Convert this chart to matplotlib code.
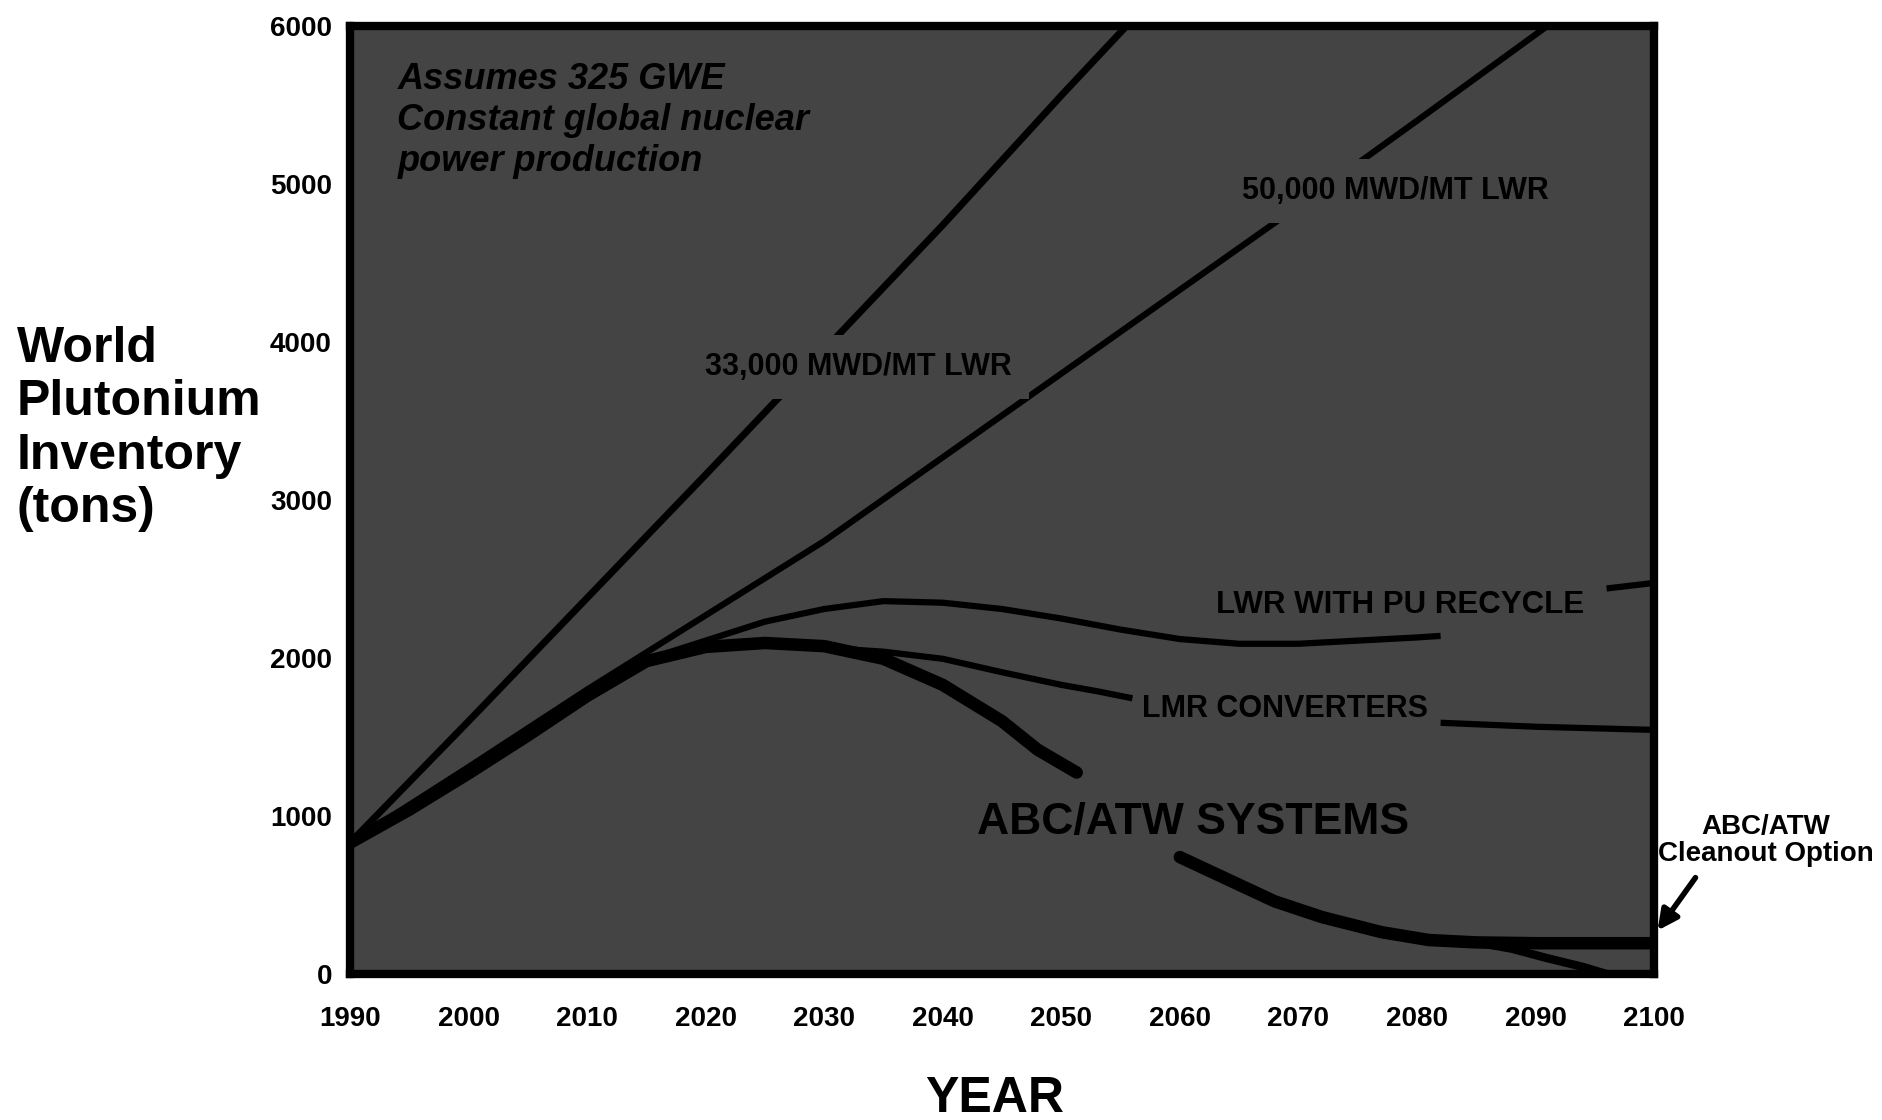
import numpy as np
import matplotlib
matplotlib.use("Agg")
import matplotlib.pyplot as plt
from matplotlib import font_manager

# ---------------- data ----------------
years_33k = [1990, 2000, 2010, 2020, 2030, 2040, 2050, 2055.5]
pu_33k = [830, 1600, 2380, 3160, 3950, 4740, 5560, 6000]

years_50k = [1990, 2000, 2010, 2020, 2030, 2040, 2050, 2060, 2070, 2080, 2091]
pu_50k = [830, 1310, 1800, 2270, 2740, 3270, 3800, 4330, 4860, 5400, 6000]

years_lwr = [1990, 1995, 2000, 2005, 2010, 2015, 2020, 2025, 2030, 2035, 2040, 2045,
             2050, 2055, 2060, 2065, 2070, 2075, 2080, 2082, 2089, 2096, 2100]
pu_lwr = [830, 1040, 1270, 1510, 1760, 1990, 2110, 2230, 2310, 2360, 2350, 2310,
          2250, 2180, 2120, 2090, 2090, 2110, 2130, 2140, np.nan, 2440, 2475]

years_lmr = [1990, 1995, 2000, 2005, 2010, 2015, 2020, 2025, 2030, 2035, 2040, 2045,
             2050, 2053, 2056, 2070, 2082, 2090, 2100]
pu_lmr = [830, 1040, 1270, 1510, 1760, 1980, 2060, 2080, 2065, 2040, 1995, 1910,
          1830, 1790, 1745, np.nan, 1590, 1565, 1545]

years_abc = [1990, 1995, 2000, 2005, 2010, 2015, 2020, 2025, 2030, 2035, 2040, 2045,
             2048, 2051.3, 2055, 2060, 2064, 2068, 2072, 2077, 2081, 2085, 2090, 2100]
pu_abc = [830, 1040, 1270, 1510, 1760, 1980, 2070, 2095, 2075, 1995, 1830, 1600,
          1420, 1275, np.nan, 740, 600, 460, 360, 265, 215, 200, 195, 195]

years_cleanout = [2085, 2088, 2091, 2094, 2096]
pu_cleanout = [200, 160, 100, 45, 0]

x_ticks = list(range(1990, 2101, 10))
y_ticks = list(range(0, 6001, 1000))

# ---------------- fonts ----------------
names = {f.name for f in font_manager.fontManager.ttflist}
main_font = 'Liberation Sans' if 'Liberation Sans' in names else 'DejaVu Sans'
narrow_font = 'Liberation Sans Narrow' if 'Liberation Sans Narrow' in names else main_font
plt.rcParams['font.family'] = [main_font, 'DejaVu Sans']

bg = '#444444'

fig = plt.figure(figsize=(18.83, 11.2), dpi=100)
fig.patch.set_facecolor('white')
ax = fig.add_axes([350 / 1883, 1 - 974 / 1120, 1304 / 1883, 948 / 1120])
ax.set_facecolor(bg)

ax.plot(years_33k, pu_33k, color='black', lw=5, solid_capstyle='butt', zorder=3)
ax.plot(years_50k, pu_50k, color='black', lw=4.5, solid_capstyle='butt', zorder=3)
ax.plot(years_lwr, pu_lwr, color='black', lw=4.5, solid_capstyle='butt', zorder=3)
ax.plot(years_lmr, pu_lmr, color='black', lw=4.5, solid_capstyle='butt', zorder=3)
ax.plot(years_abc, pu_abc, color='black', lw=9, solid_capstyle='round', zorder=4)
ax.plot(years_cleanout, pu_cleanout, color='black', lw=6, solid_capstyle='butt', zorder=4)

ax.set_xlim(1990, 2100)
ax.set_ylim(0, 6000)
ax.set_xticks(x_ticks)
ax.set_yticks(y_ticks)
ax.tick_params(axis='both', length=0, labelsize=20)
ax.tick_params(axis='x', pad=23)
ax.tick_params(axis='y', pad=13)
for lab in ax.get_xticklabels() + ax.get_yticklabels():
    lab.set_fontweight('bold')
for sp in ax.spines.values():
    sp.set_linewidth(6)
    sp.set_color('black')

# series labels
lab_kw = dict(color='black', fontweight='bold', ha='center', va='center', zorder=6)
ax.text(2032.9, 3842, '33,000 MWD/MT LWR', fontsize=22,
        bbox=dict(facecolor=bg, edgecolor='none', pad=12), **lab_kw)
ax.text(2078.2, 4956, '50,000 MWD/MT LWR', fontsize=22,
        bbox=dict(facecolor=bg, edgecolor='none', pad=12), **lab_kw)
ax.text(2078.6, 2335, 'LWR WITH PU RECYCLE', fontsize=22.5, **lab_kw)
ax.text(2068.9, 1677, 'LMR CONVERTERS', fontsize=22, **lab_kw)
ax.text(2061.1, 962, 'ABC/ATW SYSTEMS', fontsize=32, **lab_kw)

ax.text(1994.0, 5770, 'Assumes 325 GWE\nConstant global nuclear\npower production',
        fontsize=26, fontweight='bold', fontstyle='italic', color='black',
        ha='left', va='top', linespacing=1.22, zorder=6)

# cleanout option note (outside axes)
ax.text(2109.4, 842, 'ABC/ATW\nCleanout Option', fontsize=20, fontweight='bold',
        ha='center', va='center', color='black', linespacing=1.05, clip_on=False)
ax.annotate('', xy=(2100.3, 275), xytext=(2103.5, 610),
            arrowprops=dict(arrowstyle='-|>', lw=4, mutation_scale=30, color='black',
                            shrinkA=0, shrinkB=0),
            annotation_clip=False)

# axis labels
fig.text(995 / 1883, 1 - 1099 / 1120, 'YEAR', fontsize=36, fontweight='bold',
         family=[narrow_font, 'DejaVu Sans'], ha='center', va='center')
fig.text(17 / 1883, 1 - 429 / 1120, 'World\nPlutonium\nInventory\n(tons)', fontsize=36,
         fontweight='bold', ha='left', va='center', linespacing=1.2)

fig.savefig('out.png', dpi=100, facecolor='white')
